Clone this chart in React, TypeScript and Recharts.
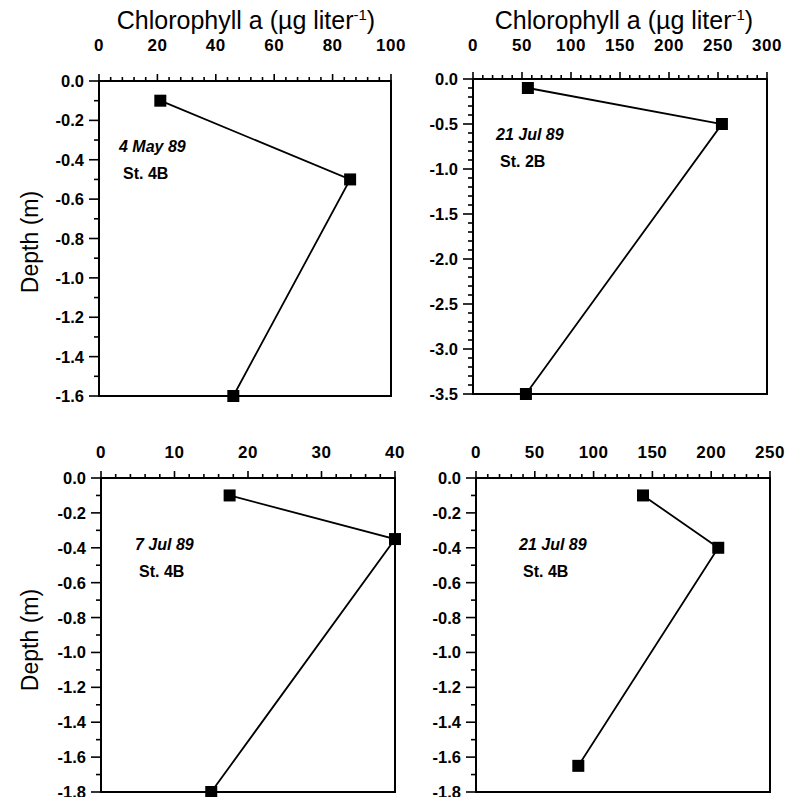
import React from 'react';
import { LineChart, Line, XAxis, YAxis, ReferenceArea } from 'recharts';

// 4 May 89, St. 4B
const may4Chl = [21, 86, 46];
const may4Depth = [-0.1, -0.5, -1.6];
// 21 Jul 89, St. 2B
const jul21St2Chl = [56, 254, 54];
const jul21St2Depth = [-0.1, -0.5, -3.5];
// 7 Jul 89, St. 4B
const jul7Chl = [17.5, 40, 15];
const jul7Depth = [-0.1, -0.35, -1.8];
// 21 Jul 89, St. 4B
const jul21St4Chl = [142, 206, 87];
const jul21St4Depth = [-0.1, -0.4, -1.65];

const may4XTicks = [0, 20, 40, 60, 80, 100];
const may4YTicks = [0, -0.2, -0.4, -0.6, -0.8, -1.0, -1.2, -1.4, -1.6];
const jul21St2XTicks = [0, 50, 100, 150, 200, 250, 300];
const jul21St2YTicks = [0, -0.5, -1.0, -1.5, -2.0, -2.5, -3.0, -3.5];
const jul7XTicks = [0, 10, 20, 30, 40];
const jul7YTicks = [0, -0.2, -0.4, -0.6, -0.8, -1.0, -1.2, -1.4, -1.6, -1.8];
const jul21St4XTicks = [0, 50, 100, 150, 200, 250];
const jul21St4YTicks = [0, -0.2, -0.4, -0.6, -0.8, -1.0, -1.2, -1.4, -1.6, -1.8];

const FONT = '"Liberation Sans", Arial, Helvetica, sans-serif';

// add minor ticks between the majors
const withMinor = (majors: number[], sub: number) => {
  const out: number[] = [];
  for (let i = 0; i < majors.length; i++) {
    out.push(majors[i]);
    if (i < majors.length - 1) {
      for (let k = 1; k < sub; k++) {
        const v = majors[i] + ((majors[i + 1] - majors[i]) * k) / sub;
        out.push(Math.round(v * 1000) / 1000);
      }
    }
  }
  return out;
};

const isMajor = (v: number, majors: number[]) => majors.some((m) => Math.abs(m - v) < 1e-6);

const XTick = (props: any) => {
  const { x, y, payload, majors, labelGap } = props;
  const v = payload.value;
  const major = isMajor(v, majors);
  return (
    <g>
      <line x1={x} x2={x} y1={y} y2={y - (major ? 7 : 4)} stroke="#000" strokeWidth={1.6} />
      {major && (
        <text x={x} y={y - labelGap} textAnchor="middle" fontFamily={FONT} fontWeight="bold" fontSize={17} letterSpacing={0.5} fill="#000">
          {v}
        </text>
      )}
    </g>
  );
};

const YTick = (props: any) => {
  const { x, y, payload, majors } = props;
  const v = payload.value;
  const major = isMajor(v, majors);
  return (
    <g>
      <line x1={x} x2={x - (major ? 10 : 5)} y1={y} y2={y} stroke="#000" strokeWidth={1.6} />
      {major && (
        <text x={x - 15} y={y + 6} textAnchor="end" fontFamily={FONT} fontWeight="bold" fontSize={16.5} fill="#000">
          {v.toFixed(1)}
        </text>
      )}
    </g>
  );
};

interface PanelProps {
  chl: number[];
  depth: number[];
  xTicks: number[];
  xSub: number;
  yTicks: number[];
  ySub: number;
  labelGap: number;
  box: { left: number; top: number; right: number; bottom: number };
}

function Panel({ chl, depth, xTicks, xSub, yTicks, ySub, labelGap, box }: PanelProps) {
  const data = chl.map((c, i) => ({ chl: c, depth: depth[i] }));
  const xMax = xTicks[xTicks.length - 1];
  const yMin = yTicks[yTicks.length - 1];
  const w = box.right - box.left + 80;
  const h = box.bottom - box.top + 48;
  return (
    <div style={{ position: 'absolute', left: box.left - 70, top: box.top - 40 }}>
      <LineChart width={w} height={h} data={data} margin={{ top: 10, right: 10, bottom: 8, left: 10 }}>
        <XAxis
          dataKey="chl"
          type="number"
          orientation="top"
          domain={[0, xMax]}
          ticks={withMinor(xTicks, xSub)}
          interval={0}
          height={30}
          tickSize={0}
          tickMargin={0}
          tickLine={false}
          axisLine={{ stroke: '#000', strokeWidth: 2 }}
          tick={(p: any) => <XTick {...p} majors={xTicks} labelGap={labelGap} />}
        />
        <YAxis
          dataKey="depth"
          type="number"
          domain={[yMin, 0]}
          ticks={withMinor(yTicks, ySub)}
          interval={0}
          width={60}
          tickSize={0}
          tickMargin={0}
          tickLine={false}
          axisLine={{ stroke: '#000', strokeWidth: 2 }}
          tick={(p: any) => <YTick {...p} majors={yTicks} />}
        />
        <ReferenceArea x1={0} x2={xMax} y1={yMin} y2={0} fill="none" stroke="#000" strokeWidth={2} />
        <Line
          type="linear"
          dataKey="depth"
          stroke="#000"
          strokeWidth={1.8}
          isAnimationActive={false}
          dot={(p: any) => <rect key={p.index} x={p.cx - 6} y={p.cy - 6} width={12} height={12} fill="#000" />}
        />
      </LineChart>
    </div>
  );
}

const Note = ({ x, y, date, station }: { x: number; y: number; date: string; station: string }) => (
  <div style={{ position: 'absolute', left: x, top: y, fontFamily: FONT, fontWeight: 'bold', fontSize: 16, lineHeight: '27px', color: '#000', whiteSpace: 'nowrap' }}>
    <div style={{ fontStyle: 'italic' }}>{date}</div>
    <div style={{ marginLeft: 4 }}>{station}</div>
  </div>
);

const Title = ({ cx }: { cx: number }) => (
  <div style={{ position: 'absolute', left: cx - 180, top: -2, width: 360, textAlign: 'center', fontFamily: FONT, fontSize: 25, lineHeight: '34px', color: '#000', whiteSpace: 'nowrap' }}>
    Chlorophyll a (µg liter<sup style={{ fontSize: 15, verticalAlign: 9 }}>-1</sup>)
  </div>
);

const DepthLabel = ({ cy }: { cy: number }) => (
  <div style={{ position: 'absolute', left: 30 - 70, top: cy - 15, width: 140, textAlign: 'center', fontFamily: FONT, fontSize: 23, lineHeight: '30px', color: '#000', transform: 'rotate(-90deg)', whiteSpace: 'nowrap' }}>
    Depth (m)
  </div>
);

export default function App() {
  return (
    <div style={{ position: 'absolute', left: 0, top: 0, width: 786, height: 797, background: '#fff', overflow: 'hidden' }}>
      <style>{'svg { overflow: visible; }'}</style>
      <Title cx={246} />
      <Title cx={624} />
      <DepthLabel cy={242} />
      <DepthLabel cy={640} />
      <Panel chl={may4Chl} depth={may4Depth} xTicks={may4XTicks} xSub={5} yTicks={may4YTicks} ySub={2} labelGap={30}
        box={{ left: 99, top: 81, right: 391, bottom: 396 }} />
      <Panel chl={jul21St2Chl} depth={jul21St2Depth} xTicks={jul21St2XTicks} xSub={5} yTicks={jul21St2YTicks} ySub={5} labelGap={28}
        box={{ left: 473, top: 79, right: 767, bottom: 394 }} />
      <Panel chl={jul7Chl} depth={jul7Depth} xTicks={jul7XTicks} xSub={5} yTicks={jul7YTicks} ySub={2} labelGap={20}
        box={{ left: 101, top: 478, right: 395, bottom: 792 }} />
      <Panel chl={jul21St4Chl} depth={jul21St4Depth} xTicks={jul21St4XTicks} xSub={5} yTicks={jul21St4YTicks} ySub={2} labelGap={20}
        box={{ left: 476, top: 478, right: 770, bottom: 792 }} />
      <Note x={119} y={133} date="4 May 89" station="St. 4B" />
      <Note x={496} y={121} date="21 Jul 89" station="St. 2B" />
      <Note x={135} y={531} date="7 Jul 89" station="St. 4B" />
      <Note x={519} y={531} date="21 Jul 89" station="St. 4B" />
    </div>
  );
}
